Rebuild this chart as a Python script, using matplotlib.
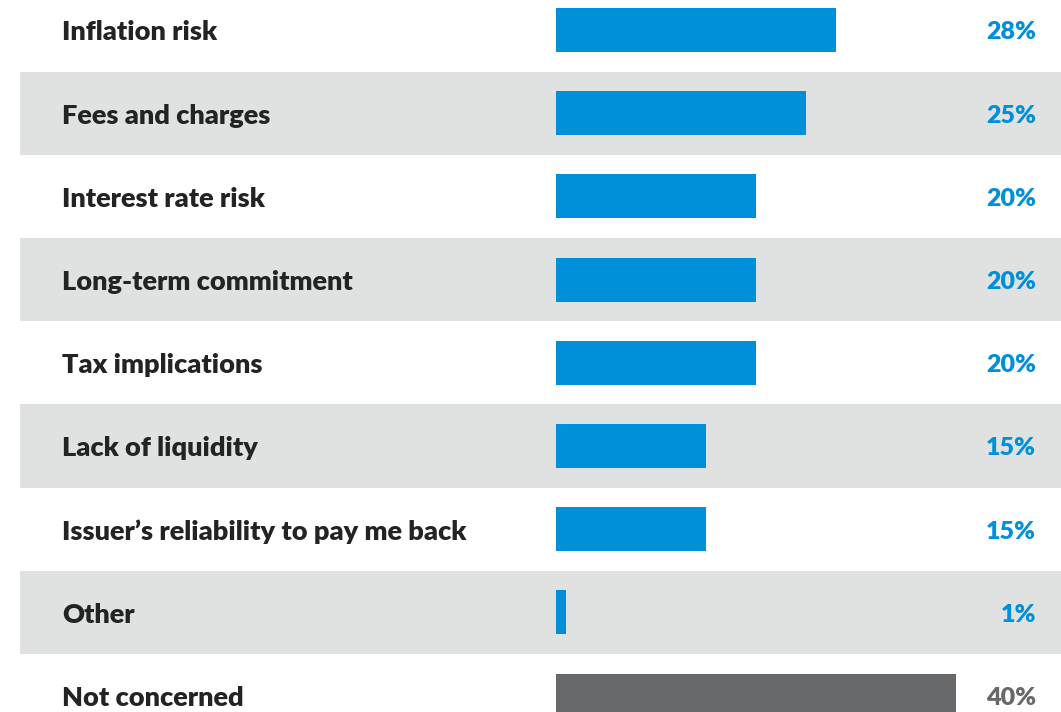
import matplotlib.pyplot as plt
import matplotlib.transforms as mtransforms

categories = [
    "Inflation risk",
    "Fees and charges",
    "Interest rate risk",
    "Long-term commitment",
    "Tax implications",
    "Lack of liquidity",
    "Issuer\u2019s reliability to pay me back",
    "Other",
    "Not concerned",
]
values = [28, 25, 20, 20, 20, 15, 15, 1, 40]
value_labels = ["28%", "25%", "20%", "20%", "20%", "15%", "15%", "1%", "40%"]

BLUE = "#0090DA"
GREY_BAR = "#68696B"
BAND = "#E0E1E1"
TEXT = "#222325"

plt.rcParams['font.family'] = ['Lato', 'DejaVu Sans']

fig = plt.figure(figsize=(10.61, 7.12), dpi=100)
ax = fig.add_axes([0, 0, 1, 1])

bar_colors = [BLUE] * (len(values) - 1) + [GREY_BAR]
label_colors = [BLUE] * (len(values) - 1) + [GREY_BAR]

# alternating shaded rows
for i in range(len(categories)):
    if i % 2 == 1:
        ax.axhspan(i - 0.5, i + 0.5, xmin=20 / 1061, xmax=1.0, color=BAND, lw=0, zorder=0)

ax.barh(range(len(values)), values, height=0.53, color=bar_colors, zorder=2)

trans = mtransforms.blended_transform_factory(ax.transAxes, ax.transData)
for i, (cat, lab) in enumerate(zip(categories, value_labels)):
    ax.text(62 / 1061, i + 0.03, cat, transform=trans, ha="left", va="center",
            fontsize=19.5, fontweight="heavy", color=TEXT)
    ax.text(1036 / 1061, i + 0.03, lab, transform=trans, ha="right", va="center",
            fontsize=18, fontweight="heavy", color=label_colors[i])

# 10 px per percentage point, zero at x=556
ax.set_xlim(-55.6, 50.5)
ax.set_ylim(-0.3606 + 712 / 83.2, -0.3606)
ax.axis("off")

fig.savefig("out.png", dpi=100)
